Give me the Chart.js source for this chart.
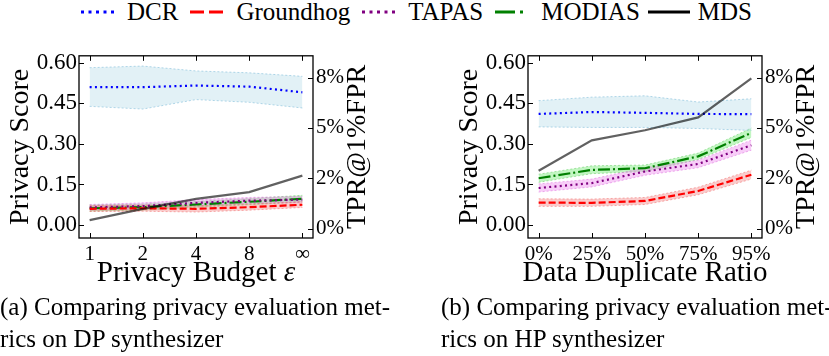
<!DOCTYPE html>
<html>
<head>
<meta charset="utf-8">
<script src="https://cdn.jsdelivr.net/npm/chart.js@4.4.1/dist/chart.umd.min.js"></script>
<style>
  body { margin: 0; width: 829px; height: 356px; background: #fff; position: relative; overflow: hidden;
         font-family: "Liberation Serif", serif; color: #000; }
  #legend { position: absolute; top: -1px; left: 0; width: 829px; display: flex; justify-content: center;
            font-size: 25px; line-height: 25px; }
  .item { display: flex; align-items: center; margin: 0 4px; }
  .item svg { margin-right: 8px; }
  .cap { position: absolute; font-size: 25px; line-height: 32px; white-space: nowrap; }
  canvas { position: absolute; }
</style>
</head>
<body>
<div id="legend"></div>
<canvas id="chartA" width="400" height="252" style="left:0;top:40px"></canvas>
<canvas id="chartB" width="380" height="252" style="left:449px;top:40px"></canvas>
<div class="cap" style="left:0;top:291px">(a) Comparing privacy evaluation met-<br>rics on DP synthesizer</div>
<div class="cap" style="left:441px;top:291px">(b) Comparing privacy evaluation met-<br>rics on HP synthesizer</div>
<script>
// x categories
const budgetLabels = ['1', '2', '4', '8', '∞'];
const dupLabels = ['0%', '25%', '50%', '75%', '95%'];

// tick labels
const scoreTicks = [0, 0.15, 0.30, 0.45, 0.60];
const tprTicks = [0, 2.5, 5, 7.5];
const tprTickLabels = ['0%', '2%', '5%', '8%'];

// (a) DP synthesizer, privacy score (mean / upper / lower)
const dcrA = [0.510, 0.510, 0.516, 0.512, 0.491];
const dcrAHi = [0.582, 0.588, 0.570, 0.563, 0.550];
const dcrALo = [0.439, 0.429, 0.464, 0.454, 0.433];
const ghA = [0.060, 0.062, 0.060, 0.066, 0.075];
const ghAHi = [0.072, 0.074, 0.071, 0.078, 0.087];
const ghALo = [0.050, 0.051, 0.048, 0.055, 0.065];
const tapasA = [0.065, 0.070, 0.082, 0.090, 0.094];
const tapasAHi = [0.076, 0.082, 0.094, 0.102, 0.106];
const tapasALo = [0.055, 0.059, 0.071, 0.079, 0.083];
const modiasA = [0.062, 0.066, 0.076, 0.086, 0.097];
const modiasAHi = [0.074, 0.078, 0.087, 0.098, 0.110];
const modiasALo = [0.051, 0.055, 0.066, 0.075, 0.085];
// MDS, TPR@1%FPR in percent
const mdsA = [0.42, 0.98, 1.47, 1.81, 2.63];

// (b) HP synthesizer
const dcrB = [0.411, 0.418, 0.415, 0.411, 0.410];
const dcrBHi = [0.460, 0.473, 0.478, 0.455, 0.467];
const dcrBLo = [0.363, 0.361, 0.361, 0.357, 0.350];
const ghB = [0.083, 0.082, 0.089, 0.126, 0.186];
const ghBHi = [0.097, 0.096, 0.102, 0.140, 0.203];
const ghBLo = [0.069, 0.069, 0.076, 0.112, 0.170];
const tapasB = [0.137, 0.155, 0.198, 0.226, 0.295];
const tapasBHi = [0.152, 0.170, 0.212, 0.240, 0.314];
const tapasBLo = [0.122, 0.141, 0.184, 0.212, 0.277];
const modiasB = [0.173, 0.204, 0.210, 0.254, 0.341];
const modiasBHi = [0.188, 0.219, 0.222, 0.266, 0.359];
const modiasBLo = [0.158, 0.190, 0.198, 0.242, 0.324];
const mdsB = [2.87, 4.38, 4.88, 5.52, 7.46];

const FONT = '"Liberation Serif", serif';
Chart.defaults.font.family = FONT;
Chart.defaults.color = '#000';

const styles = {
  DCR:       { color: '#0000ff', dash: [2, 3.3], band: 'rgba(173,216,230,0.35)', edge: 'rgba(120,185,215,0.7)' },
  Groundhog: { color: '#ff0000', dash: [7, 3],   band: 'rgba(240,110,110,0.35)', edge: 'rgba(240,90,90,0.6)' },
  TAPAS:     { color: '#800080', dash: [2, 3.3], band: 'rgba(238,130,238,0.4)',  edge: 'rgba(220,100,220,0.6)' },
  MODIAS:    { color: '#008000', dash: [12, 3, 2, 3], band: 'rgba(144,238,144,0.55)', edge: 'rgba(90,200,90,0.6)' },
  MDS:       { color: 'rgba(0,0,0,0.62)' }
};

const pts = arr => arr.map((v, i) => ({ x: i, y: v }));

function bandSeries(name, mean, hi, lo) {
  const s = styles[name];
  return [
    { data: pts(hi), borderColor: s.edge, borderWidth: 0.8, borderDash: [2, 2], fill: false, order: 3 },
    { data: pts(lo), borderColor: s.edge, borderWidth: 0.8, borderDash: [2, 2], backgroundColor: s.band, fill: '-1', order: 3 },
    { data: pts(mean), borderColor: s.color, borderWidth: 2.2, borderDash: s.dash, fill: false, order: 1 }
  ];
}

const framePlugin = {
  id: 'frame',
  afterDraw(chart, args, opts) {
    const { ctx, chartArea: a, scales } = chart;
    const L = 5;
    ctx.save();
    ctx.strokeStyle = '#000';
    ctx.lineWidth = 1;
    ctx.beginPath();
    scales.x.ticks.forEach(t => {
      const px = Math.round(scales.x.getPixelForValue(t.value)) + 0.5;
      ctx.moveTo(px, a.bottom); ctx.lineTo(px, a.bottom - L);
      ctx.moveTo(px, a.top); ctx.lineTo(px, a.top + L);
    });
    scales.y.ticks.forEach(t => {
      const py = Math.round(scales.y.getPixelForValue(t.value)) + 0.5;
      ctx.moveTo(a.left, py); ctx.lineTo(a.left + L, py);
    });
    scales.y2.ticks.forEach(t => {
      const py = Math.round(scales.y2.getPixelForValue(t.value)) + 0.5;
      ctx.moveTo(a.right, py); ctx.lineTo(a.right - L, py);
    });
    ctx.stroke();
    ctx.lineWidth = 1.3;
    ctx.strokeRect(a.left, a.top, a.right - a.left, a.bottom - a.top);

    // right axis title, reading bottom to top
    ctx.fillStyle = '#000';
    ctx.font = '28px ' + FONT;
    ctx.textAlign = 'center';
    ctx.textBaseline = 'middle';
    ctx.save();
    ctx.translate(a.right + 44.5, (a.top + a.bottom) / 2);
    ctx.rotate(-Math.PI / 2);
    ctx.fillText('TPR@1%FPR', 0, 0);
    ctx.restore();

    // x axis title, parts may be italic
    ctx.textAlign = 'left';
    ctx.textBaseline = 'alphabetic';
    const parts = opts.xTitle;
    const fonts = parts.map(p => (p.italic ? 'italic ' : '') + '29px ' + FONT);
    let w = 0;
    parts.forEach((p, i) => { ctx.font = fonts[i]; w += ctx.measureText(p.text).width; });
    let x = (a.left + a.right) / 2 - w / 2;
    parts.forEach((p, i) => {
      ctx.font = fonts[i];
      ctx.fillText(p.text, x, opts.xTitleY);
      x += ctx.measureText(p.text).width;
    });
    ctx.restore();
  }
};

function makeChart(id, labels, series, mds, xTitle, rightWidth) {
  const datasets = [];
  series.forEach(s => datasets.push(...bandSeries(s[0], s[1], s[2], s[3])));
  datasets.push({ data: pts(mds), yAxisID: 'y2', borderColor: styles.MDS.color, borderWidth: 2.2, fill: false, order: 0 });

  return new Chart(document.getElementById(id), {
    type: 'line',
    data: { datasets },
    options: {
      responsive: false,
      animation: false,
      layout: { padding: { top: 14, left: 0, right: 0, bottom: 0 } },
      elements: { point: { radius: 0 }, line: { tension: 0 } },
      plugins: {
        legend: { display: false },
        tooltip: { enabled: false },
        frame: { xTitle, xTitleY: 241 }
      },
      scales: {
        x: {
          type: 'linear', min: -0.2, max: 4.2,
          grid: { display: false, drawTicks: false }, border: { display: false },
          afterBuildTicks: sc => { sc.ticks = labels.map((_, i) => ({ value: i })); },
          afterFit: sc => { sc.height = 54; },
          ticks: { font: { size: 21 }, padding: 4, maxRotation: 0, autoSkip: false, callback: v => labels[v] }
        },
        y: {
          position: 'left', min: -0.048, max: 0.626,
          grid: { display: false, drawTicks: false }, border: { display: false },
          afterBuildTicks: sc => { sc.ticks = scoreTicks.map(v => ({ value: v })); },
          afterFit: sc => { sc.width = 79; },
          ticks: { font: { size: 23 }, padding: 2, callback: v => v.toFixed(2) },
          title: { display: true, text: 'Privacy Score', font: { size: 28 }, padding: { top: 4, bottom: 0 } }
        },
        y2: {
          position: 'right', min: -0.47, max: 8.58,
          grid: { display: false, drawTicks: false }, border: { display: false },
          afterBuildTicks: sc => { sc.ticks = tprTicks.map(v => ({ value: v })); },
          afterFit: sc => { sc.width = rightWidth; },
          ticks: { font: { size: 21 }, padding: 3, callback: v => tprTickLabels[tprTicks.indexOf(v)] }
        }
      }
    },
    plugins: [framePlugin]
  });
}

makeChart('chartA', budgetLabels, [
  ['DCR', dcrA, dcrAHi, dcrALo],
  ['Groundhog', ghA, ghAHi, ghALo],
  ['TAPAS', tapasA, tapasAHi, tapasALo],
  ['MODIAS', modiasA, modiasAHi, modiasALo]
], mdsA, [{ text: 'Privacy Budget ' }, { text: 'ε', italic: true }], 87);

makeChart('chartB', dupLabels, [
  ['DCR', dcrB, dcrBHi, dcrBLo],
  ['Groundhog', ghB, ghBHi, ghBLo],
  ['TAPAS', tapasB, tapasBHi, tapasBLo],
  ['MODIAS', modiasB, modiasBHi, modiasBLo]
], mdsB, [{ text: 'Data Duplicate Ratio' }], 67);

// legend
const legendItems = [
  { name: 'DCR', color: '#0000ff', dash: '3 4.5', x1: 4, x2: 37 },
  { name: 'Groundhog', color: '#ff0000', dash: '14 5', x1: 4, x2: 37 },
  { name: 'TAPAS', color: '#800080', dash: '3 4.5', x1: 4, x2: 37 },
  { name: 'MODIAS', color: '#008000', dash: '20 5 3 5', x1: 4, x2: 36 },
  { name: 'MDS', color: '#000000', dash: '', x1: 0, x2: 42 }
];
const legend = document.getElementById('legend');
legendItems.forEach(it => {
  const el = document.createElement('div');
  el.className = 'item';
  el.innerHTML = '<svg width="42" height="10"><line x1="' + it.x1 + '" y1="5" x2="' + it.x2 + '" y2="5" stroke="' +
    it.color + '" stroke-width="3" stroke-dasharray="' + it.dash + '"/></svg><span>' + it.name + '</span>';
  legend.appendChild(el);
});
</script>
</body>
</html>
